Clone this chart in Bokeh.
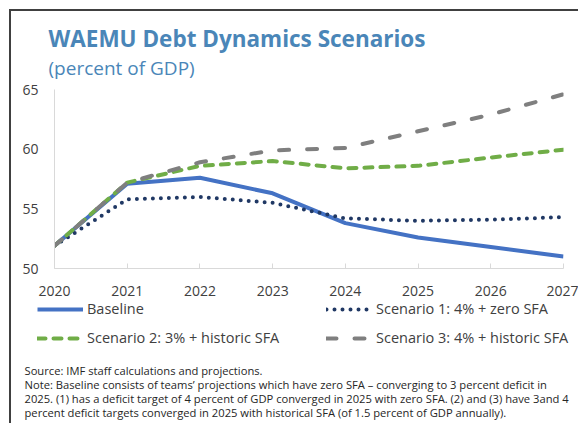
from bokeh.plotting import figure
from bokeh.models import ColumnDataSource, Range1d, Legend, LegendItem, Label, FixedTicker
from bokeh.embed import file_html
from bokeh.resources import INLINE

years = [2020, 2021, 2022, 2023, 2024, 2025, 2026, 2027]
baseline = [51.9, 57.1, 57.6, 56.3, 53.8, 52.6, 51.8, 51.0]
scenario1 = [51.9, 55.8, 56.0, 55.5, 54.2, 54.0, 54.1, 54.3]
scenario2 = [51.9, 57.2, 58.6, 59.0, 58.4, 58.6, 59.3, 59.95]
scenario3 = [51.9, 57.2, 58.9, 59.9, 60.1, 61.5, 62.9, 64.6]
y_ticks = [50, 55, 60, 65]

title_text = "WAEMU Debt Dynamics Scenarios"
subtitle_text = "(percent of GDP)"
legend_labels = ["Baseline", "Scenario 1: 4% + zero SFA",
                 "Scenario 2: 3% + historic SFA", "Scenario 3: 4% + historic SFA"]
notes = [
    "Source: IMF staff calculations and projections.",
    "Note: Baseline consists of teams\u2019 projections which have zero SFA \u2013 converging to 3 percent deficit in",
    "2025. (1) has a deficit target of 4 percent of GDP converged in 2025 with zero SFA. (2) and (3) have 3and 4",
    "percent deficit targets converged in 2025 with historical SFA (of 1.5 percent of GDP annually).",
]

FONT = "Open Sans"
TXT = "#404040"
BLUE_T = "#4a86b8"
BORDER = "2px solid #404040"

styles = [
    dict(line_color="#4472c4", line_width=4, line_join="round"),
    dict(line_color="#203864", line_width=4, line_dash="0 8", line_cap="round", line_join="round"),
    dict(line_color="#70ad47", line_width=4, line_dash="8 8", line_cap="round", line_join="round"),
    dict(line_color="#7f7f7f", line_width=4, line_dash="10 18", line_cap="round", line_join="round"),
]
cols = ["b", "s1", "s2", "s3"]

src = ColumnDataSource(dict(x=years, b=baseline, s1=scenario1, s2=scenario2, s3=scenario3))


def blank(h):
    f = figure(width=569, height=h, output_backend="svg", toolbar_location=None, title=None,
               x_range=Range1d(0, 1), y_range=Range1d(0, 1),
               x_axis_type=None, y_axis_type=None,
               min_border_left=0, min_border_right=0, min_border_top=0, min_border_bottom=0)
    f.outline_line_color = None
    f.xgrid.visible = False
    f.ygrid.visible = False
    return f


# ---- title block ----
t = blank(72)
t.styles = {"margin-left": "9px", "margin-top": "9px", "border-left": BORDER, "border-top": BORDER}
t.add_layout(Label(x=37, y=45, x_units="screen", y_units="screen", text=title_text,
                   text_font=FONT, text_font_size="22.5px", text_font_style="bold",
                   text_color=BLUE_T, text_baseline="middle"))
t.add_layout(Label(x=37, y=16, x_units="screen", y_units="screen", text=subtitle_text,
                   text_font=FONT, text_font_size="19px",
                   text_color=BLUE_T, text_baseline="middle"))

# ---- main chart ----
p = figure(width=569, height=217, output_backend="svg", toolbar_location=None, title=None,
           x_range=Range1d(2020, 2027), y_range=Range1d(50, 65),
           min_border_left=43, min_border_right=17, min_border_top=8, min_border_bottom=29)
p.styles = {"margin-left": "9px", "border-left": BORDER}
p.outline_line_color = None
p.xgrid.visible = False
p.ygrid.visible = False

ax = p.xaxis[0]
ax.ticker = FixedTicker(ticks=years)
ax.axis_line_color = "#d9d9d9"
ax.major_tick_line_color = "#d9d9d9"
ax.major_tick_in = 5
ax.major_tick_out = 0
ax.minor_tick_line_color = None
ax.major_label_standoff = 17
ax.major_label_text_font = FONT
ax.major_label_text_font_size = "14px"
ax.major_label_text_color = TXT

ay = p.yaxis[0]
ay.ticker = FixedTicker(ticks=y_ticks)
ay.axis_line_color = "#d9d9d9"
ay.major_tick_line_color = None
ay.major_tick_in = 0
ay.major_tick_out = 0
ay.minor_tick_line_color = None
ay.major_label_standoff = 16
ay.major_label_text_font = FONT
ay.major_label_text_font_size = "14px"
ay.major_label_text_color = TXT

for c, st in zip(cols, styles):
    p.line("x", c, source=src, **st)

# ---- legend and notes block ----
q = blank(125)
q.styles = {"margin-left": "9px", "border-left": BORDER}

legend_pos = [(26, 105), (315, 105), (26, 76), (315, 76)]
for lab, c, st, loc in zip(legend_labels, cols, styles, legend_pos):
    key = q.line("x", c, source=src, **st)  # lies outside this block's ranges: only its legend key shows
    lg = Legend(items=[LegendItem(label=lab, renderers=[key])], location=loc,
                glyph_width=46, glyph_height=10, label_standoff=4, label_height=10,
                padding=0, margin=0, border_line_color=None, background_fill_alpha=0,
                label_text_font=FONT, label_text_font_size="14.5px", label_text_color=TXT)
    q.add_layout(lg, "center")

for i, line in enumerate(notes):
    q.add_layout(Label(x=13, y=53 - 14 * i, x_units="screen", y_units="screen", text=line,
                       text_font=FONT, text_font_size="11.2px", text_color="#262626",
                       text_baseline="middle"))

open("out.html", "w").write(file_html([t, p, q], INLINE))
